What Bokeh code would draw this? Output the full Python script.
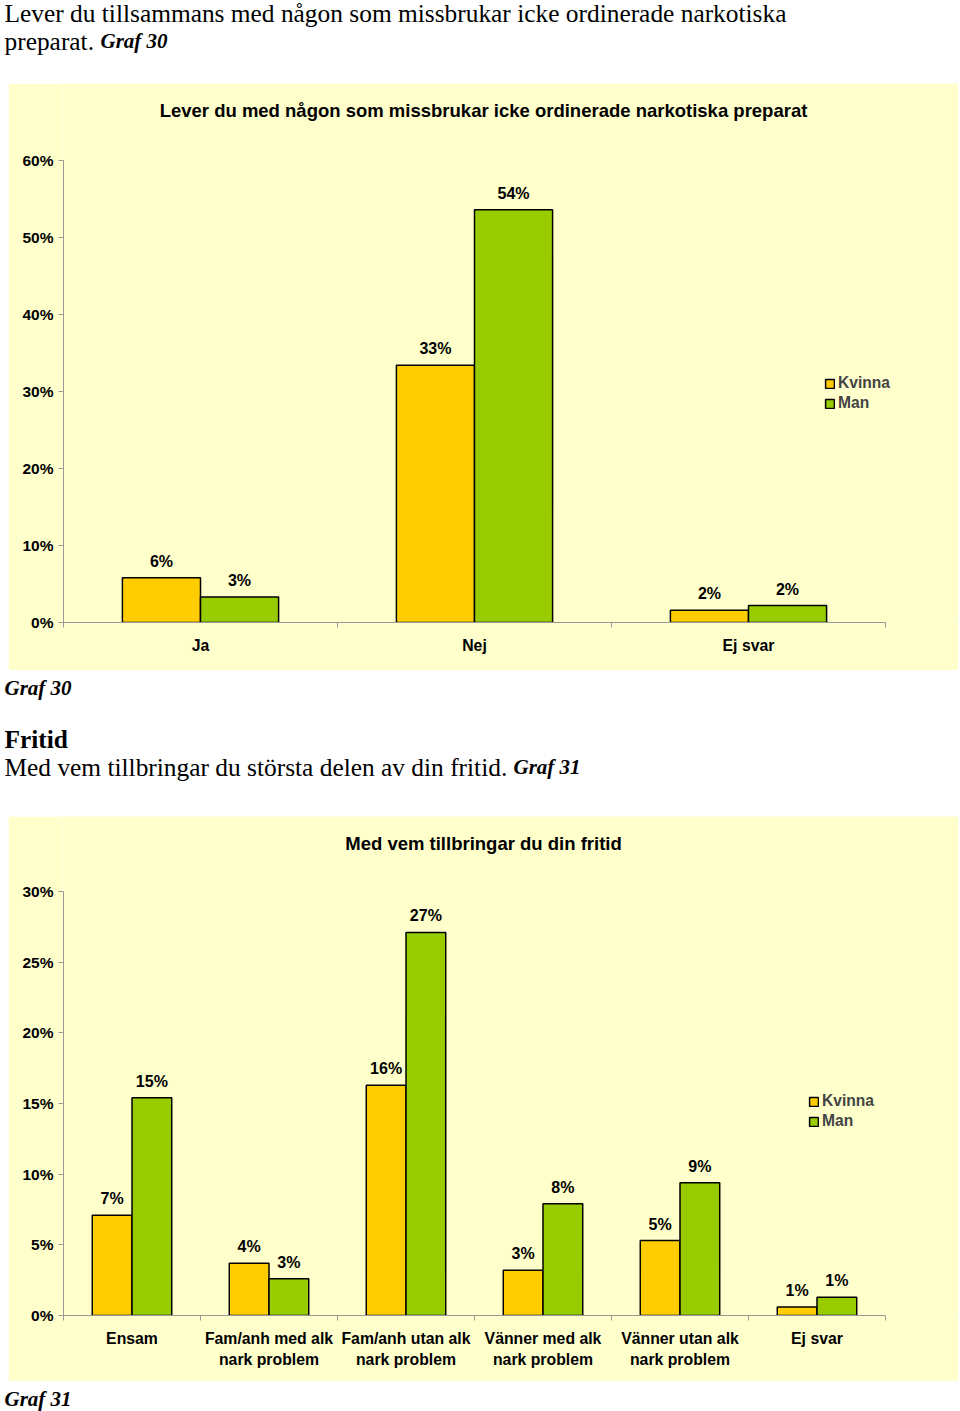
from bokeh.plotting import figure
from bokeh.models import (Range1d, Label, LabelSet, ColumnDataSource, FixedTicker,
                          PrintfTickFormatter, Spacer, Legend, LegendItem)
from bokeh.layouts import column, row
from bokeh.core.properties import value
from bokeh.embed import file_html
from bokeh.resources import INLINE

# ---------------- data ----------------
series = ["Kvinna", "Man"]
series_colors = ["#FFCC00", "#99CC00"]

g30_title = "Lever du med någon som missbrukar icke ordinerade narkotiska preparat"
g30_categories = ["Ja", "Nej", "Ej svar"]
g30_kvinna = [5.8, 33.4, 1.6]
g30_man = [3.3, 53.6, 2.2]
g30_yticks = [0, 10, 20, 30, 40, 50, 60]

g31_title = "Med vem tillbringar du din fritid"
g31_categories = ["Ensam", "Fam/anh med alk\nnark problem", "Fam/anh utan alk\nnark problem",
                  "Vänner med alk\nnark problem", "Vänner utan alk\nnark problem", "Ej svar"]
g31_kvinna = [7.1, 3.7, 16.3, 3.2, 5.3, 0.6]
g31_man = [15.4, 2.6, 27.1, 7.9, 9.4, 1.3]
g31_yticks = [0, 5, 10, 15, 20, 25, 30]

SANS = "Liberation Sans"
SERIF = "Liberation Serif"
PANEL = "#FFFFCC"
AXIS = "#999999"
BODY = "25.4px"
CAPTION = "21px"


def text_block(height, items):
    p = figure(width=960, height=height, x_range=Range1d(0, 960), y_range=Range1d(height, 0),
               x_axis_type=None, y_axis_type=None, toolbar_location=None, output_backend="svg",
               min_border=0, outline_line_color=None, background_fill_color="white",
               border_fill_color="white")
    for (x, y, txt, size, style) in items:
        p.add_layout(Label(x=x, y=y, text=txt, text_font=SERIF, text_font_size=size,
                           text_font_style=style, text_baseline="middle", text_align="left",
                           text_color="black"))
    return p


def bar_chart(title, cats, kv, mn, yticks, height, top, bottom, bar_w, legend_loc, title_off):
    n = len(cats)
    ymax = yticks[-1]
    data_w = 822           # pixel width of the category area
    frame_w = 895          # frame reaches the right edge of the panel
    data_h = height - top - bottom
    frame_h = height - bottom
    p = figure(frame_width=frame_w, frame_height=frame_h,
               x_range=Range1d(0, n * frame_w / data_w),
               y_range=Range1d(0, ymax * frame_h / data_h),
               toolbar_location=None, output_backend="svg",
               min_border_left=55, min_border_right=0, min_border_top=0, min_border_bottom=bottom,
               background_fill_color=PANEL, border_fill_color=PANEL, outline_line_color=None)
    p.grid.visible = False
    centers = [i + 0.5 for i in range(n)]
    off = bar_w / 2
    renderers = []
    for vals, sign, col in ((kv, -1, series_colors[0]), (mn, 1, series_colors[1])):
        src = ColumnDataSource(dict(x=[c + sign * off for c in centers], top=vals,
                                    label=[f"{round(v)}%" for v in vals]))
        r = p.vbar(x="x", top="top", width=bar_w, source=src, fill_color=col,
                   line_color="black", line_width=1.5)
        renderers.append(r)
        p.add_layout(LabelSet(x="x", y="top", text="label", source=src, y_offset=8,
                              text_align="center", text_baseline="bottom",
                              text_font=value(SANS), text_font_style="bold",
                              text_font_size="16px", text_color="black"))
    legend = Legend(items=[LegendItem(label=series[0], renderers=[renderers[0]]),
                           LegendItem(label=series[1], renderers=[renderers[1]])],
                    location=legend_loc, border_line_color=None, background_fill_alpha=0,
                    padding=0, margin=0, spacing=2, glyph_width=11, glyph_height=11,
                    label_standoff=3, label_height=18, label_text_font=SANS,
                    label_text_font_style="bold", label_text_font_size="15.6px")
    p.add_layout(legend, "center")

    xa = p.xaxis[0]
    xa.bounds = (0, n)
    xa.ticker = FixedTicker(ticks=centers, minor_ticks=list(range(n + 1)))
    xa.major_label_overrides = {c: cat for c, cat in zip(centers, cats)}
    xa.major_tick_out = 0
    xa.major_tick_in = 0
    xa.minor_tick_out = 5
    xa.minor_tick_in = 0
    xa.axis_line_color = AXIS
    xa.minor_tick_line_color = AXIS
    xa.major_label_text_font = SANS
    xa.major_label_text_font_style = "bold"
    xa.major_label_text_font_size = "15.8px"
    xa.major_label_text_color = "black"
    xa.major_label_text_line_height = 1.25
    xa.major_label_standoff = 9

    ya = p.yaxis[0]
    ya.bounds = (0, ymax)
    ya.ticker = FixedTicker(ticks=yticks, minor_ticks=[])
    ya.formatter = PrintfTickFormatter(format="%d%%")
    ya.major_tick_out = 5
    ya.major_tick_in = 0
    ya.minor_tick_out = 0
    ya.minor_tick_in = 0
    ya.axis_line_color = AXIS
    ya.major_tick_line_color = AXIS
    ya.major_label_text_font = SANS
    ya.major_label_text_font_style = "bold"
    ya.major_label_text_font_size = "15.5px"
    ya.major_label_text_color = "black"
    ya.major_label_standoff = 5

    p.add_layout(Label(x=n / 2, y=ymax, x_offset=9, y_offset=title_off, text=title,
                       text_align="center", text_baseline="middle", text_font=SANS,
                       text_font_style="bold", text_font_size="18.5px", text_color="black"))
    return p


header = text_block(83, [
    (4, 12, "Lever du tillsammans med någon som missbrukar icke ordinerade narkotiska", BODY, "normal"),
    (4, 40, "preparat.", BODY, "normal"),
    (100, 40, "Graf 30", CAPTION, "bold italic"),
])

fig30 = bar_chart(g30_title, g30_categories, g30_kvinna, g30_man, g30_yticks,
                  587, 77, 48, 0.285, (761, 210), 50)

middle = text_block(146, [
    (4, 17, "Graf 30", CAPTION, "bold italic"),
    (4, 68, "Fritid", BODY, "bold"),
    (4, 96, "Med vem tillbringar du största delen av din fritid.", BODY, "normal"),
    (513, 96, "Graf 31", CAPTION, "bold italic"),
])

fig31 = bar_chart(g31_title, g31_categories, g31_kvinna, g31_man, g31_yticks,
                  565, 75, 66, 0.29, (745, 185), 48)

footer = text_block(30, [
    (4, 17, "Graf 31", CAPTION, "bold italic"),
])

layout = column(header,
                row(Spacer(width=8, height=587), fig30),
                middle,
                row(Spacer(width=8, height=565), fig31),
                footer)

open("out.html", "w").write(file_html(layout, INLINE))
